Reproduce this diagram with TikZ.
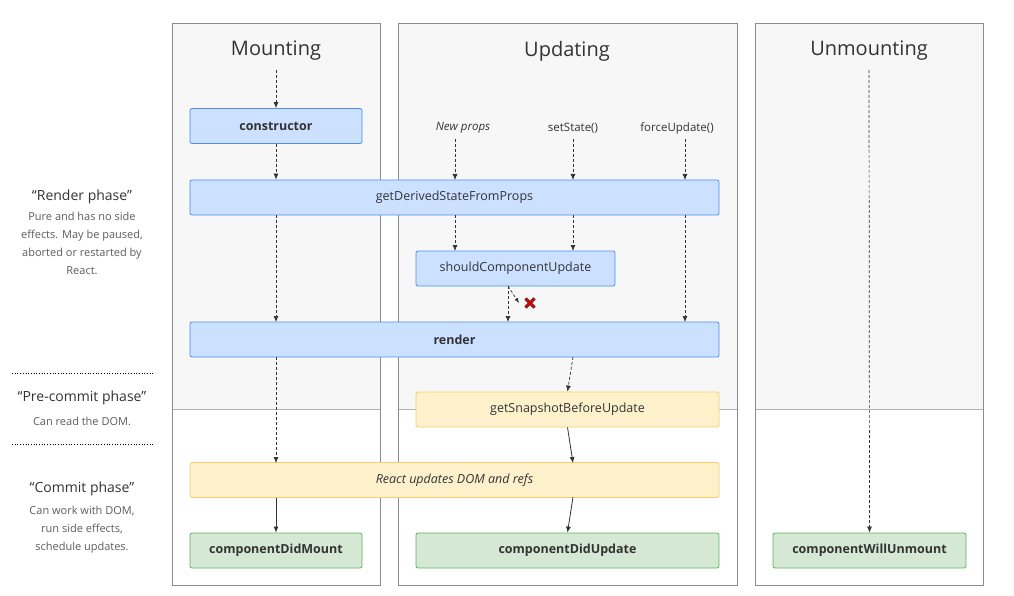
\documentclass[tikz,border=0pt]{standalone}
\usepackage{fontspec}
\setmainfont{Open Sans}
\usetikzlibrary{arrows.meta}
\definecolor{bfill}{HTML}{CCE0FF}\definecolor{bdraw}{HTML}{4C8FEB}
\definecolor{yfill}{HTML}{FDF1CC}\definecolor{ydraw}{HTML}{F3CF6C}
\definecolor{gfill}{HTML}{D5E8D4}\definecolor{gdraw}{HTML}{5DB35D}
\definecolor{panelfill}{HTML}{F7F7F7}\definecolor{txt}{HTML}{333333}
\tikzset{
 box/.style={rounded corners=2pt,line width=0.8pt,inner sep=0pt,minimum height=35pt,font=\fontsize{12.5}{14}\selectfont,text=txt},
 bluebox/.style={box,fill=bfill,draw=bdraw},
 yelbox/.style={box,fill=yfill,draw=ydraw},
 grnbox/.style={box,fill=gfill,draw=gdraw},
 title/.style={font=\fontsize{20}{22}\selectfont,text=txt},
 lbl/.style={font=\fontsize{11.5}{13}\selectfont,text=txt},
 small/.style={font=\fontsize{11}{18}\selectfont,text=txt!80,align=center},
 phase/.style={font=\fontsize{14}{16}\selectfont,text=txt},
 da/.style={densely dashed,line width=0.7pt,draw=txt,-{Latex[length=6pt,width=5pt]}},
 sa/.style={line width=0.8pt,draw=txt,-{Latex[length=6pt,width=5pt]}},
 panel/.style={draw=gray!90,line width=0.7pt}
}
\begin{document}
\begin{tikzpicture}[x=1pt,y=-1pt]
\useasboundingbox (0,0) rectangle (1014,596);
% panels
\foreach \a/\b in {172/380,398/737,755/983}{
 \fill[panelfill] (\a,23) rectangle (\b,409);
 \draw[gray!60,line width=0.7pt] (\a,409) -- (\b,409);
 \draw[panel] (\a,23) rectangle (\b,585);
}
\node[title] (tm) at (276,51) {Mounting};
\node[title] (tu) at (567,51) {Updating};
\node[title] (tn) at (869,51) {Unmounting};
\coordinate (mstart) at (276,70);
\coordinate (nstart) at (869,70);
% boxes
\node[bluebox,minimum width=172pt,font=\fontsize{12.5}{14}\selectfont\bfseries] (ctor) at (276,126) {constructor};
\node[bluebox,minimum width=529pt] (gds) at (454.5,197.5) {getDerivedStateFromProps};
\node[bluebox,minimum width=199pt] (scu) at (515.5,268.5) {shouldComponentUpdate};
\node[bluebox,minimum width=529pt,font=\fontsize{12.5}{14}\selectfont\bfseries] (render) at (454.5,339.5) {render};
\node[yelbox,minimum width=303pt] (gsbu) at (567.5,409.5) {getSnapshotBeforeUpdate};
\node[yelbox,minimum width=529pt,font=\fontsize{12.5}{14}\selectfont\itshape] (rud) at (454.5,480) {React updates DOM and refs};
\node[grnbox,minimum width=172pt,font=\fontsize{12.5}{14}\selectfont\bfseries] (cdm) at (276,550.5) {componentDidMount};
\node[grnbox,minimum width=303pt,font=\fontsize{12.5}{14}\selectfont\bfseries] (cdu) at (567.5,550.5) {componentDidUpdate};
\node[grnbox,minimum width=193pt,font=\fontsize{12.5}{14}\selectfont\bfseries] (cwu) at (869.5,550.5) {componentWillUnmount};
% update labels
\node[lbl,font=\fontsize{11.5}{13}\selectfont\itshape] (np) at (463,128) {New props};
\node[lbl] (ss) at (573,128) {setState()};
\node[lbl] (fu) at (677,128) {forceUpdate()};
% mounting arrows
\draw[da] (mstart) -- (ctor);
\draw[da] (ctor.south) -- (ctor.south |- gds.north);
\draw[da] (276,215) -- (276,322);
\draw[da] (276,357) -- (276,463);
\draw[sa] (rud.south -| cdm) -- (cdm.north);
% updating arrows
\draw[da] (455,139) -- (455,180);
\draw[da] (573,139) -- (573,180);
\draw[da] (685,139) -- (685,180);
\draw[da] (455,215) -- (455,251);
\draw[da] (573,215) -- (573,251);
\draw[da] (685,215) -- (685,322);
\draw[da] (508,286) -- (508,322);
\draw[densely dashed,line width=0.7pt,draw=txt,-{Latex[length=5pt,width=4pt]}] (508,286) -- (519,303);
\coordinate (xc) at (530,303);
\draw[line width=3.2pt,draw=black!70] ([shift={(-4.5,-4.5)}]xc) -- ([shift={(4.5,4.5)}]xc) ([shift={(-4.5,4.5)}]xc) -- ([shift={(4.5,-4.5)}]xc);
\draw[line width=2pt,draw=red!85!black] ([shift={(-4.5,-4.5)}]xc) -- ([shift={(4.5,4.5)}]xc) ([shift={(-4.5,4.5)}]xc) -- ([shift={(4.5,-4.5)}]xc);
\draw[da] (573,357) -- (gsbu.north);
\draw[sa] (gsbu.south) -- (573,463);
\draw[sa] (573,497) -- (cdu.north);
% unmount
\draw[da] (nstart) -- (cwu.north);
% left
\draw[dotted,line width=0.7pt] (12,373) -- (154,373);
\draw[dotted,line width=0.7pt] (12,444) -- (154,444);
\node[phase] (rp) at (82,197) {“Render phase”};
\node[small,anchor=north] (rpt) at (82,209) {Pure and has no side\\effects. May be paused,\\aborted or restarted by\\React.};
\node[phase] (pp) at (82,398) {“Pre-commit phase”};
\node[small] (ppt) at (82,421) {Can read the DOM.};
\node[phase] (cp) at (82,489) {“Commit phase”};
\node[small,anchor=north] (cpt) at (82,503) {Can work with DOM,\\run side effects,\\schedule updates.};
\end{tikzpicture}
\end{document}
